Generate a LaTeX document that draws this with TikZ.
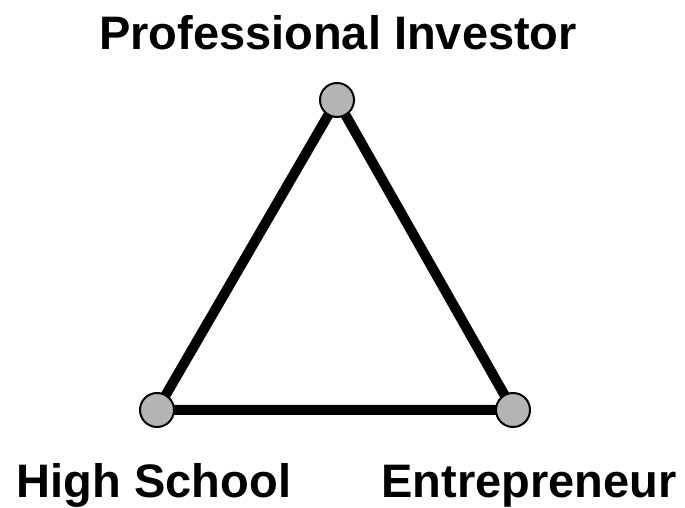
\documentclass[tikz,border=0pt]{standalone}
\usepackage{fontspec}
\setmainfont{Liberation Sans}
\usepackage{xcolor}
\usetikzlibrary{positioning,backgrounds}
\definecolor{dotgray}{HTML}{B4B4B4}

\begin{document}
\begin{tikzpicture}[
  x=1pt, y=1pt,
  dot/.style ={circle, draw=black, line width=2pt, fill=dotgray, minimum size=34pt, inner sep=0pt},
  edge/.style={line width=10pt, black},
  lbl/.style ={font=\fontsize{47}{50}\selectfont\bfseries, inner sep=0pt, anchor=base},
]
  \useasboundingbox (0,0) rectangle (685,508);

  \node[dot] (pro) at (337,408) {};
  \node[dot] (hs)  at (157,98)  {};
  \node[dot] (ent) at (513,98)  {};

  \begin{pgfonlayer}{background}
    \draw[edge] (pro.center) -- (hs.center) -- (ent.center) -- cycle;
  \end{pgfonlayer}

  \node[lbl] (prolbl) at (338,458) {Professional Investor};
  \node[lbl] (hslbl)  at (154,10)  {High School};
  \node[lbl] (entlbl) at (529,10)  {Entrepreneur};
\end{tikzpicture}
\end{document}
